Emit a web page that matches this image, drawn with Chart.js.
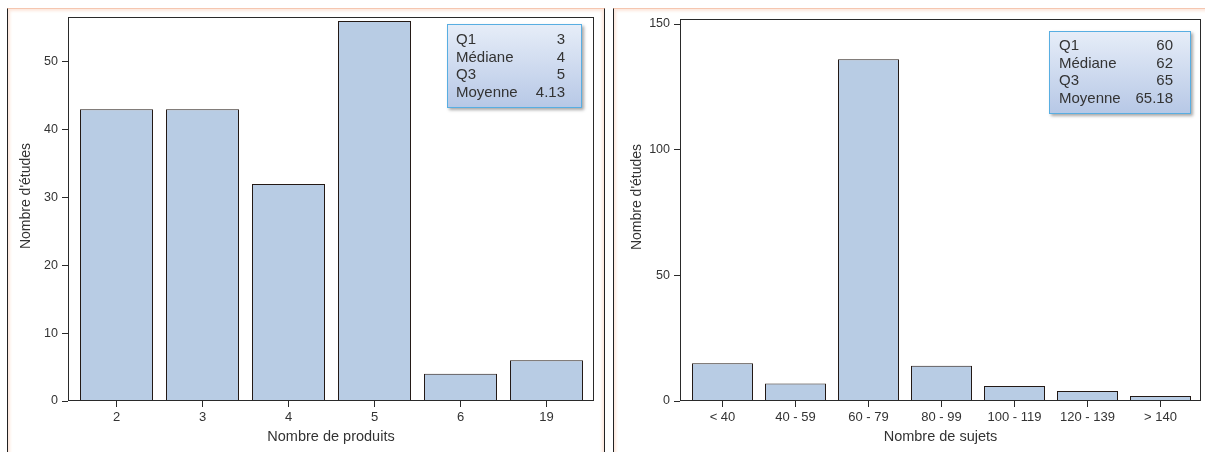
<!DOCTYPE html>
<html>
<head>
<meta charset="utf-8">
<script src="https://cdn.jsdelivr.net/npm/chart.js@4/dist/chart.umd.min.js"></script>
<style>
  html, body { margin:0; padding:0; background:#fff; width:1205px; height:452px; overflow:hidden; font-family:"Liberation Sans", Arial, sans-serif; }
  .panel { position:absolute; top:8px; height:460px; box-sizing:border-box; border-top:1px solid #f5c6b0; border-left:1px solid #222; border-right:1px solid #222; box-shadow: inset 0 0 3px 2px #fde7dc; }
  .cv { position:absolute; }
  .stats { position:absolute; box-sizing:border-box; border:1px solid #58aee2; background:linear-gradient(#e6edf8, #b7c8e6); box-shadow:2px 2px 3px rgba(0,0,0,0.35); color:#333; font-size:15px; }
  .stats .row { display:flex; justify-content:space-between; height:17.7px; line-height:17.7px; }
</style>
</head>
<body>
<div class="panel" style="left:7px; width:598px;"></div>
<div class="panel" style="left:613px; width:600px; border-right:none;"></div>
<canvas id="c1" class="cv" width="595" height="443" style="left:8px; top:9px;"></canvas>
<canvas id="c2" class="cv" width="591" height="443" style="left:614px; top:9px;"></canvas>
<div id="s1" class="stats" style="left:447px; top:24px; width:135px; height:84px; padding:5px 16px 0 8px;"></div>
<div id="s2" class="stats" style="left:1049px; top:31px; width:142px; height:83px; padding:4px 17px 0 9px;"></div>
<script>
// ---- Data ----
const productCategories = ["2", "3", "4", "5", "6", "19"];
const productCounts = [43, 43, 32, 56, 4, 6];
const productTicksY = [0, 10, 20, 30, 40, 50];

const subjectCategories = ["< 40", "40 - 59", "60 - 79", "80 - 99", "100 - 119", "120 - 139", "> 140"];
const subjectCounts = [15, 7, 136, 14, 6, 4, 2];
const subjectTicksY = [0, 50, 100, 150];

const statLabels = ["Q1", "Médiane", "Q3", "Moyenne"];
const productStats = ["3", "4", "5", "4.13"];
const subjectStats = ["60", "62", "65", "65.18"];

const yTitle = "Nombre d'études";
const xTitle1 = "Nombre de produits";
const xTitle2 = "Nombre de sujets";

// ---- Stats boxes ----
function fillStats(id, vals) {
  const el = document.getElementById(id);
  statLabels.forEach((l, i) => {
    const r = document.createElement('div');
    r.className = 'row';
    const a = document.createElement('span'); a.textContent = l;
    const b = document.createElement('span'); b.textContent = vals[i];
    r.appendChild(a); r.appendChild(b); el.appendChild(r);
  });
}
fillStats('s1', productStats);
fillStats('s2', subjectStats);

// ---- Charts ----
const frame = {
  id: 'frame',
  afterDatasetsDraw(chart, args, opts) {
    const a = chart.chartArea, ctx = chart.ctx;
    ctx.save();
    ctx.strokeStyle = '#2a2a2a';
    ctx.lineWidth = 1;
    ctx.strokeRect(Math.round(a.left) + 0.5, Math.round(a.top) + 0.5, Math.round(a.right - a.left) - 1, Math.round(a.bottom - a.top) - 1);
    // rotated y-axis title
    ctx.fillStyle = '#333';
    ctx.font = '14px "Liberation Sans"';
    ctx.textAlign = 'center';
    ctx.textBaseline = 'middle';
    ctx.translate(opts.titleX, (a.top + a.bottom) / 2 + opts.titleShift);
    ctx.rotate(-Math.PI / 2);
    ctx.fillText(opts.text, 0, 0);
    ctx.restore();
  }
};

function makeChart(id, cats, vals, yTicks, yMax, xTitle, cfg) {
  const fontTickX = { family: "Liberation Sans", size: 13 };
  const fontTickY = { family: "Liberation Sans", size: 12.5 };
  const fontTitle = { family: "Liberation Sans", size: 14.5 };
  return new Chart(document.getElementById(id), {
    type: 'bar',
    data: {
      datasets: [{
        data: vals.map((v, i) => ({ x: i, y: v })),
        backgroundColor: '#b8cce4',
        borderColor: '#231915',
        borderWidth: 1,
        categoryPercentage: 1,
        barPercentage: cfg.barPct
      }]
    },
    options: {
      responsive: false,
      animation: false,
      devicePixelRatio: 1,
      layout: { padding: { top: cfg.padTop, right: cfg.padRight, left: 0, bottom: 0 } },
      plugins: {
        legend: { display: false },
        tooltip: { enabled: false },
        frame: { text: yTitle, titleX: cfg.yTitleX, titleShift: -13 }
      },
      scales: {
        x: {
          type: 'linear',
          offset: false,
          min: -0.5 - cfg.dl,
          max: cats.length - 0.5 + cfg.dr,
          border: { display: false },
          grid: { offset: false, drawOnChartArea: false, drawTicks: true, tickLength: 6, color: '#2a2a2a' },
          afterBuildTicks(scale) { scale.ticks = cats.map((c, i) => ({ value: i })); },
          ticks: {
            autoSkip: false, maxRotation: 0, includeBounds: false, padding: 3,
            color: '#333', font: fontTickX,
            callback: (v) => cats[v]
          },
          title: { display: true, text: xTitle, color: '#333', font: fontTitle, padding: { top: 0, bottom: 6.3 } },
          afterFit(scale) { scale.height = 51; scale.paddingLeft = 0; scale.paddingRight = 0; }
        },
        y: {
          min: 0,
          max: yMax,
          border: { display: false },
          grid: { drawOnChartArea: false, drawTicks: true, tickLength: 6, color: '#2a2a2a' },
          afterBuildTicks(scale) { scale.ticks = yTicks.map(v => ({ value: v })); },
          ticks: { padding: 4, color: '#333', font: fontTickY, includeBounds: false },
          afterFit(scale) { scale.width = cfg.yWidth; scale.paddingTop = 0; scale.paddingBottom = 0; }
        }
      }
    },
    plugins: [frame]
  });
}

makeChart('c1', productCategories, productCounts, productTicksY, 56.6, xTitle1,
  { barPct: 73 / 86, dl: 0.06395, dr: 0.0524, padTop: 8, padRight: 9, yWidth: 60, yTitleX: 18.5 });
makeChart('c2', subjectCategories, subjectCounts, subjectTicksY, 152, xTitle2,
  { barPct: 61 / 73, dl: 0.0822, dr: 0.0548, padTop: 10, padRight: 4, yWidth: 66, yTitleX: 23 });
</script>
</body>
</html>
